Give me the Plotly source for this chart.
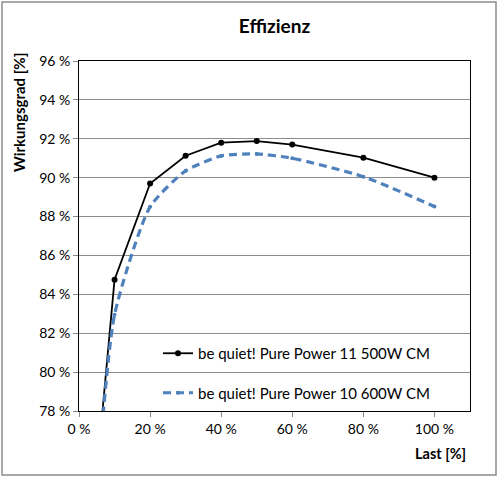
import plotly.graph_objects as go

# Last [%] und Wirkungsgrad [%]
last = [5, 10, 20, 30, 40, 50, 60, 80, 100]
pp11_500 = [74.8, 84.75, 89.7, 91.13, 91.8, 91.88, 91.7, 91.03, 90.0]
pp10_600 = [73.8, 82.95, 88.5, 90.35, 91.12, 91.22, 91.0, 90.05, 88.52]

y_ticks = list(range(78, 97, 2))
x_ticks = list(range(0, 101, 20))

W, H = 499, 478
ML, MR, MT, MB = 79, 29, 61, 67
PW, PH = W - ML - MR, H - MT - MB

FONT = "Lato"

fig = go.Figure()
fig.add_trace(go.Scatter(
    x=last, y=pp11_500, mode="lines+markers",
    name="be quiet! Pure Power 11 500W CM",
    line=dict(color="black", width=1.8),
    marker=dict(size=6, color="black"),
    legendgroup="a",
))
fig.add_trace(go.Scatter(
    x=last, y=pp10_600, mode="lines+markers",
    name="be quiet! Pure Power 10 600W CM",
    line=dict(color="#4F81BD", width=3.2, dash="8px,5px", shape="spline", smoothing=0.6),
    marker=dict(size=4, color="#4F81BD"),
    legendgroup="b",
))

fig.update_layout(
    width=W, height=H,
    margin=dict(l=ML, r=MR, t=MT, b=MB),
    paper_bgcolor="white", plot_bgcolor="white",
    font=dict(family=FONT, size=14, color="black"),
    title=dict(text="<b>Effizienz</b>", x=0.5, xref="paper", y=1 - 26 / H,
               yanchor="middle", font=dict(size=19)),
    showlegend=True,
    legend=dict(x=(158 - ML) / PW, y=(411 - 337) / PH, xanchor="left", yanchor="top",
                bgcolor="rgba(0,0,0,0)", traceorder="grouped", tracegroupgap=17,
                font=dict(size=15), itemwidth=30),
    xaxis=dict(range=[0, 110], tickvals=x_ticks, ticktext=[f"{v} %" for v in x_ticks],
               showgrid=False, zeroline=False, showline=True, linecolor="black",
               linewidth=1, mirror=True, ticks="outside", ticklen=5, tickcolor="#888"),
    yaxis=dict(range=[78, 96], tickvals=y_ticks, ticktext=[f"{v} %" for v in y_ticks],
               showgrid=True, gridcolor="#8c8c8c", gridwidth=1, zeroline=False,
               showline=True, linecolor="black", linewidth=1, mirror=True,
               ticks="outside", ticklen=5, tickcolor="#888"),
)

fig.add_annotation(text="<b>Wirkungsgrad [%]</b>", textangle=-90, xref="paper", yref="paper",
                   x=(19 - ML) / PW, y=(411 - 113) / PH, showarrow=False,
                   xanchor="center", yanchor="middle", font=dict(size=15))
fig.add_annotation(text="<b>Last [%]</b>", xref="paper", yref="paper",
                   x=(468 - ML) / PW, y=-(453 - 411) / PH, showarrow=False,
                   xanchor="right", yanchor="middle", font=dict(size=14.5))

# Rahmen um das Diagramm
fig.add_shape(type="rect", xref="paper", yref="paper",
              x0=(2 - ML) / PW, x1=(496 - ML) / PW,
              y0=-(475 - 411) / PH, y1=(411 - 2) / PH,
              line=dict(color="#8c8c8c", width=1.5))

# Seitenrand entfernen, damit das Bild exakt ins Fenster passt
fig.write_html("out.html", config={"displayModeBar": False},
               post_script="document.body.style.margin='0';")
